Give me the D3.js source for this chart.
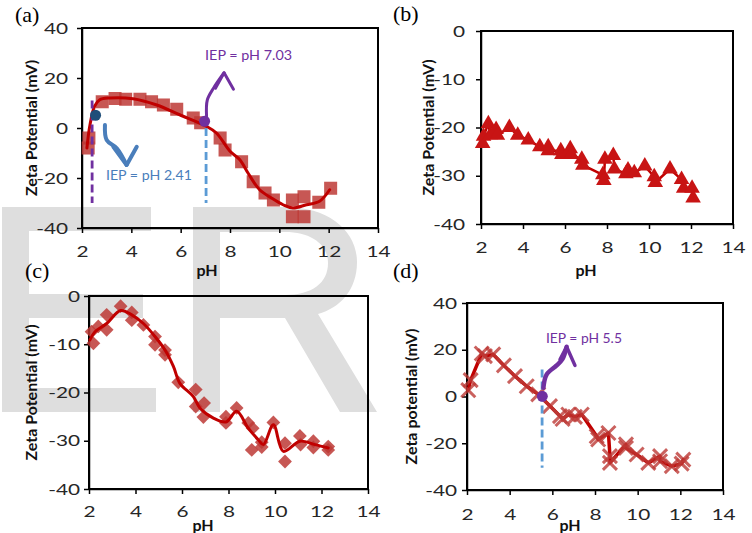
<!DOCTYPE html>
<html>
<head>
<meta charset="utf-8">
<style>
body { margin: 0; background: #fff; }
svg text { font-family: Lato, "Liberation Sans", sans-serif; }
.axis .tick text { font-size: 16px; fill: #262626; }
.axis path, .axis line { stroke: #000; stroke-width: 1.5; }
.title { font-weight: bold; font-size: 16px; fill: #111; }
.pid { font-family: "Liberation Serif", serif !important; font-size: 22px; fill: #000; }
</style>
<script src="https://cdn.jsdelivr.net/npm/d3@7"></script>
</head>
<body>
<svg width="752" height="533"></svg>
<script>

// ---- data (pH, zeta potential mV) ----
var phTicks = [2, 4, 6, 8, 10, 12, 14];
var ticks80 = [-40, -20, 0, 20, 40];
var ticks40 = [-40, -30, -20, -10, 0];

// (a) squares + smoothed fit
var squaresA = [[2.25,-8],[2.28,-4],[2.82,10.5],[3.34,11.8],[3.77,11.5],[4.35,11.5],[4.82,10.5],
  [5.3,9.2],[5.84,7.5],[6.51,4],[6.81,2.1],[7.6,-4],[7.8,-8.8],[8.47,-13.5],[8.94,-21.5],
  [9.42,-26],[9.76,-28.8],[10.53,-28.8],[11.0,-27.5],[10.53,-35.5],[11.0,-35.5],[11.6,-29.7],[12.08,-24.1]];
var fitA = [[2.2,-8],[2.31,0.5],[2.51,8.7],[2.72,11.3],[3.12,12],[4.07,11.7],[5.0,9.3],[5.96,5.3],
  [7.04,0.7],[7.45,-2],[8.0,-9.3],[8.4,-12.7],[8.73,-18],[9.2,-24.7],[9.68,-28],[10.15,-30.7],
  [10.55,-32],[11.1,-30.7],[11.63,-29.3],[12.04,-24.7]];

// (b) triangles, joined in order
var trianglesB = [[2.08,-23.3],[2.12,-21.8],[2.35,-19.2],[2.45,-21.5],[2.72,-20.4],[2.78,-21.6],
  [3.35,-20.0],[3.75,-21.6],[4.25,-22.6],[4.8,-24.0],[5.2,-24.0],[5.2,-24.8],[5.8,-24.8],[5.85,-25.6],
  [6.25,-24.4],[6.3,-25.6],[6.8,-26.6],[6.85,-27.8],[7.8,-29.8],[7.85,-31.0],[7.9,-26.6],[8.3,-25.8],
  [8.35,-28.6],[8.9,-29.6],[9.0,-28.8],[9.3,-29.4],[9.8,-28.0],[10.25,-30.2],[10.3,-31.4],[11.0,-28.6],
  [11.55,-30.8],[11.65,-32.6],[12.05,-32.6],[12.1,-34.6]];

// (c) diamonds + smoothed fit
var diamondsC = [[2.19,-9.8],[2.11,-7.4],[2.4,-6.3],[2.76,-7.0],[2.76,-3.9],[3.36,-2.1],[3.84,-3.4],
  [3.84,-5.0],[4.34,-6.0],[4.84,-8.4],[4.84,-10.1],[5.27,-11.2],[5.27,-12.2],[5.84,-17.9],[6.59,-19.4],
  [6.59,-22.9],[6.95,-22.2],[6.92,-25.1],[7.89,-25],[7.89,-26.3],[8.35,-23.2],[8.85,-26.3],[9.04,-27.4],
  [9.0,-31.9],[9.43,-30.3],[9.43,-31.3],[9.93,-26.2],[10.43,-30.5],[10.43,-34.3],[11.07,-29],
  [11.1,-30.8],[11.65,-30.1],[11.65,-31.4],[12.29,-31.2],[12.29,-31.9]];
var fitC = [[2.04,-9.1],[2.26,-7.4],[2.76,-5.7],[3.36,-3.0],[3.84,-3.9],[4.34,-5.7],[4.84,-8.4],
  [5.27,-11.2],[5.63,-14.6],[5.91,-18.1],[6.48,-20.8],[6.77,-23.2],[7.35,-25.3],[7.89,-26.1],
  [8.35,-23.9],[8.85,-27.4],[9.28,-29.8],[9.5,-30.8],[9.93,-26.7],[10.36,-32.2],[11.07,-30.1],
  [11.72,-30.8],[12.29,-31.5]];

// (d) crosses, joined in order
var crossesD = [[2.06,2.7],[2.17,7.0],[2.69,18.4],[2.84,17.3],[3.23,18],[3.73,13.3],[4.25,8.7],
  [4.8,4.4],[5.34,0.9],[5.89,-4.1],[6.36,-8.4],[6.48,-9.6],[6.75,-7.7],[7.06,-8.7],[7.38,-7.7],
  [8.08,-17],[8.15,-18.4],[8.63,-15.6],[8.7,-25.5],[8.7,-28.4],[9.45,-20.5],[9.45,-22],[9.95,-24.8],
  [10.5,-28.4],[11.05,-25.5],[11.05,-27.7],[11.6,-29.8],[12.06,-28.7],[12.14,-27]];

// IEP annotations
var iepA1 = {ph: 2.41, dot: [2.55, 5.1], top: 11, bottom: -30, label: "IEP = pH 2.41", at: [2.97, -20.8]};
var iepA2 = {ph: 7.03, dot: [6.97, 2.7], top: 0, bottom: -30, label: "IEP = pH 7.03", at: [6.99, 27.2]};
var iepD  = {ph: 5.52, dot: [5.53, 0.1], top: 11.6, bottom: -30.5, label: "IEP = pH 5.5", at: [5.7, 22.7]};
var arrowA1 = [[2.93,1.2],[3.0,-4.8],[3.41,-8.1],[3.81,-14.8]], headA1 = [[3.27,-7.5],[3.81,-14.8],[4.22,-7.5]];
var arrowA2 = [[7.05,4.5],[7.08,11.2],[7.33,15.9],[7.76,22.1]], headA2 = [[7.41,15.9],[7.76,22.1],[8.14,15.5]];
var arrowD  = [[5.58,3.7],[5.73,9.4],[6.2,13.3],[6.48,16.1],[6.67,21.3]], headD = [[6.36,15.8],[6.67,21.3],[7.06,13.3]];

var RED = "#c00000", MARK = "#bd3a36", PURPLE = "#7030a0", BLUE = "#4a7ebb", DBLUE = "#5b9bd5";

var svg = d3.select("svg");

// watermark letters
svg.append("path")
  .attr("d", "M2,207H151V231H29V294H143V318H29V388H156V412H2Z")
  .attr("fill", "#dedede");
svg.append("path")
  .attr("d", "M193,207H285C330,207 357,232 357,262C357,290 340,308 318,314L377,412H340L285,318H220V412H193Z" +
             "M220,232H285C312,232 328,245 328,263C328,283 312,295 285,295H220Z")
  .attr("fill", "#dedede").attr("fill-rule", "evenodd");

var plain = function(d) { return String(d); };

function panel(box, yDomain, yTicks) {
  var x = d3.scaleLinear().domain([2, 14]).range([box.left, box.right]);
  var y = d3.scaleLinear().domain(yDomain).range([box.bottom, box.top]);

  svg.append("rect")
    .attr("x", box.left).attr("y", box.top)
    .attr("width", box.right - box.left).attr("height", box.bottom - box.top)
    .attr("fill", "none").attr("stroke", "#000").attr("stroke-width", 2);

  var gx = svg.append("g").attr("class", "axis")
    .attr("transform", "translate(0," + box.bottom + ")")
    .call(d3.axisBottom(x).tickValues(phTicks).tickFormat(plain).tickSize(5).tickSizeOuter(0).tickPadding(box.xpad));
  var gy = svg.append("g").attr("class", "axis")
    .attr("transform", "translate(" + box.left + ",0)")
    .call(d3.axisLeft(y).tickValues(yTicks).tickFormat(plain).tickSize(5).tickSizeOuter(0).tickPadding(box.ygap / 1.3 - 5));
  gx.selectAll(".tick text").attr("transform", "scale(1.3,1)");
  gy.selectAll(".tick text").attr("transform", "scale(1.3,1)");

  svg.append("text").attr("class", "title")
    .attr("text-anchor", "middle")
    .attr("transform", "translate(" + box.ytx + "," + ((box.top + box.bottom) / 2) + ") rotate(-90)")
    .attr("dy", "0.35em")
    .text(box.ytitle);
  svg.append("text").attr("class", "title")
    .attr("text-anchor", "middle")
    .attr("x", box.phx).attr("y", box.phy)
    .text("pH");
  svg.append("text").attr("class", "pid")
    .attr("x", box.idx).attr("y", box.idy)
    .text(box.id);
  return {x: x, y: y};
}

function curve(p, pts, color, w, smooth) {
  svg.append("path")
    .attr("d", d3.line().x(function(d) { return p.x(d[0]); }).y(function(d) { return p.y(d[1]); })
      .curve(smooth ? d3.curveCatmullRom.alpha(0.5) : d3.curveLinear)(pts))
    .attr("fill", "none").attr("stroke", color).attr("stroke-width", w)
    .attr("stroke-linejoin", "round").attr("stroke-linecap", "round");
}

function markers(p, pts, type, size, rot, fill, opacity) {
  svg.append("g").selectAll("path").data(pts).enter().append("path")
    .attr("d", d3.symbol().type(type).size(size))
    .attr("transform", function(d) { return "translate(" + p.x(d[0]) + "," + p.y(d[1]) + ") rotate(" + rot + ")"; })
    .attr("fill", fill).attr("fill-opacity", opacity);
}

function iep(p, o, lineColor, dotColor, textColor, tlen) {
  svg.append("line")
    .attr("x1", p.x(o.ph)).attr("x2", p.x(o.ph))
    .attr("y1", p.y(o.top)).attr("y2", p.y(o.bottom))
    .attr("stroke", lineColor).attr("stroke-width", 2.8).attr("stroke-dasharray", "8,4");
  svg.append("circle")
    .attr("cx", p.x(o.dot[0])).attr("cy", p.y(o.dot[1])).attr("r", 5.5)
    .attr("fill", dotColor);
  svg.append("text")
    .attr("x", p.x(o.at[0])).attr("y", p.y(o.at[1]))
    .attr("textLength", tlen).attr("lengthAdjust", "spacingAndGlyphs")
    .attr("font-size", 14).attr("fill", textColor)
    .text(o.label);
}

// (a)
var pa = panel({left: 82, top: 28, right: 378, bottom: 228, xpad: 13, ygap: 14, ytx: 31, phx: 207, phy: 276,
  ytitle: "Zeta Potential (mV)", id: "(a)", idx: 15, idy: 22}, [-40, 40], ticks80);
markers(pa, squaresA, d3.symbolSquare, 170, 0, MARK, 0.85);
curve(pa, fitA, RED, 3, true);
iep(pa, iepA1, PURPLE, "#1f4e79", BLUE, 86);
iep(pa, iepA2, DBLUE, PURPLE, PURPLE, 87);
curve(pa, arrowA1, BLUE, 4, true);
curve(pa, headA1, BLUE, 4, false);
curve(pa, arrowA2, PURPLE, 3, true);
curve(pa, headA2, PURPLE, 3, false);

// (b)
var pb = panel({left: 481, top: 31, right: 733, bottom: 224, xpad: 13, ygap: 16, ytx: 428, phx: 586, phy: 276,
  ytitle: "Zeta Potential (mV)", id: "(b)", idx: 393, idy: 21}, [-40, 0], ticks40);
curve(pb, trianglesB, RED, 2.5, false);
markers(pb, trianglesB, d3.symbolTriangle, 105, 0, "#c81414", 1);

// (c)
var pc = panel({left: 89, top: 296, right: 368, bottom: 489, xpad: 12, ygap: 9, ytx: 31, phx: 203, phy: 531,
  ytitle: "Zeta Potential (mV)", id: "(c)", idx: 25, idy: 278}, [-40, 0], ticks40);
markers(pc, diamondsC, d3.symbolSquare, 95, 45, MARK, 0.85);
curve(pc, fitC, RED, 3, true);

// (d)
var pd = panel({left: 467, top: 303, right: 723, bottom: 490, xpad: 14, ygap: 10, ytx: 411, phx: 570, phy: 531,
  ytitle: "Zeta potential (mV)", id: "(d)", idx: 393, idy: 278}, [-40, 40], ticks80);
curve(pd, crossesD, RED, 3.5, false);
svg.append("g").selectAll("path").data(crossesD).enter().append("path")
  .attr("d", d3.symbol().type(d3.symbolTimes).size(130))
  .attr("transform", function(d) { return "translate(" + pd.x(d[0]) + "," + pd.y(d[1]) + ")"; })
  .attr("fill", "none").attr("stroke", MARK).attr("stroke-width", 3).attr("stroke-opacity", 0.8);
iep(pd, iepD, DBLUE, PURPLE, PURPLE, 76);
curve(pd, arrowD, PURPLE, 4.5, true);
curve(pd, headD, PURPLE, 3.5, false);

</script>
</body>
</html>
